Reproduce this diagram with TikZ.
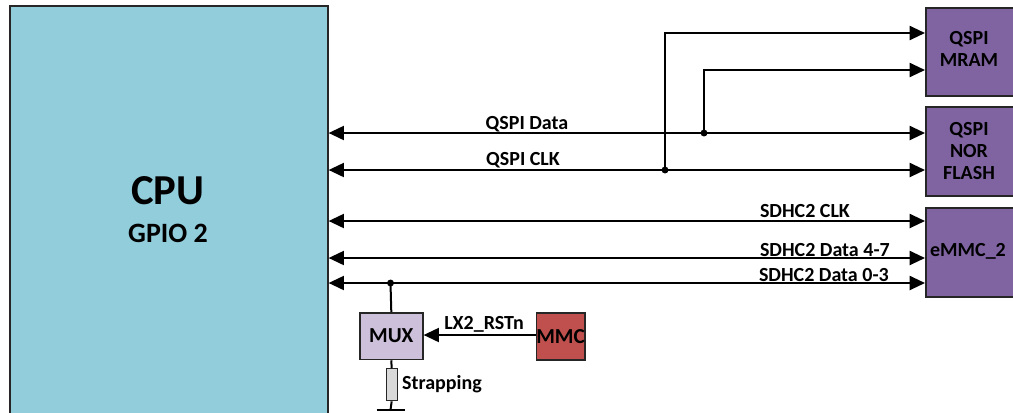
\documentclass[tikz,border=0pt]{standalone}
\usepackage{fontspec}
\setmainfont{Carlito}
\usetikzlibrary{arrows.meta}
\definecolor{cpublue}{HTML}{92CDDC}
\definecolor{devpurple}{HTML}{8064A2}
\definecolor{muxlav}{HTML}{CCC0DA}
\definecolor{mmcred}{HTML}{C0504D}
\definecolor{resgray}{HTML}{D9D9D9}
\definecolor{edge}{HTML}{262626}
\begin{document}
\begin{tikzpicture}[x=0.75pt,y=-0.75pt,
  line width=1.5pt,
  font=\bfseries\fontsize{15}{17.5}\selectfont,
  box/.style={draw=edge, line width=1.2pt, inner sep=0pt, anchor=north west, align=center},
  tip/.style={-{Triangle[length=11.5pt,width=10.5pt]}},
  bitip/.style={{Triangle[length=11.5pt,width=10.5pt]}-{Triangle[length=11.5pt,width=10.5pt]}},
  lbl/.style={inner sep=0pt, align=center},
  dot/.style={circle, fill=black, inner sep=0pt, minimum size=5pt}]
\clip (0,0) rectangle (1013,412);
\fill[white] (0,0) rectangle (1013,412);

% boxes
\node[box, fill=cpublue, minimum width=238.5pt, minimum height=330pt] (cpu) at (9,5) {};
\node[lbl, font=\bfseries\fontsize{32}{36}\selectfont] (cputxt) at (168,191) {CPU};
\node[lbl, font=\bfseries\fontsize{21}{24}\selectfont] (gpiotxt) at (168,233) {GPIO 2};

\node[box, fill=devpurple, minimum width=71.25pt, minimum height=66pt] (mram) at (925,7) {};
\node[lbl, font=\bfseries\fontsize{15}{16.5}\selectfont] at (969,49) {QSPI\\MRAM};
\node[box, fill=devpurple, minimum width=71.25pt, minimum height=66.75pt] (nor) at (925,106) {};
\node[lbl, font=\bfseries\fontsize{15}{16.5}\selectfont] at (969,151) {QSPI\\NOR\\FLASH};
\node[box, fill=devpurple, minimum width=71.25pt, minimum height=66.75pt] (emmc) at (925,207) {};
\node[lbl] at (968,251) {eMMC\_2};

\node[box, fill=muxlav, minimum width=47.25pt, minimum height=35pt, font=\bfseries\fontsize{16}{18}\selectfont] (mux) at (359,312) {MUX};
\node[box, fill=mmcred, minimum width=35.25pt, minimum height=35.25pt, font=\bfseries\fontsize{16}{18}\selectfont] (mmc) at (535.5,312) {MMC};
\node[box, fill=resgray, line width=1pt, minimum width=8.25pt, minimum height=24pt] (res) at (385.5,368) {};

% junctions
\coordinate (j1) at (665,170);
\coordinate (j2) at (704,133);
\coordinate (j3) at (390.5,283);
\coordinate (gnd) at (390.5,410);

% QSPI
\draw[bitip] (cpu.east |- j2) -- (nor.west |- j2);
\draw[bitip] (cpu.east |- j1) -- (nor.west |- j1);
\draw[tip] (j1) |- (mram.west |- 0,33);
\draw[tip] (j2) |- (mram.west |- 0,70);
\fill (j1) circle (2.6pt);
\fill (j2) circle (2.6pt);
\node[lbl] at (527,124) {QSPI Data};
\node[lbl] at (523,160) {QSPI CLK};

% SDHC2
\draw[bitip] (cpu.east |- 0,221) -- (emmc.west |- 0,221);
\draw[bitip] (cpu.east |- 0,258) -- (emmc.west |- 0,258);
\draw[bitip] (cpu.east |- j3) -- (emmc.west |- j3);
\node[lbl, anchor=west] at (759,211) {SDHC2 CLK};
\node[lbl, anchor=west] at (759,250) {SDHC2 Data 4-7};
\node[lbl, anchor=west] at (758,275) {SDHC2 Data 0-3};

% MUX
\fill (j3) circle (2.6pt);
\draw (j3) -- (mux.north);
\draw[tip] (mmc.west |- 0,335) -- (mux.east |- 0,335);
\node[lbl] at (484,324) {LX2\_RSTn};
\draw (mux.south) -- (res.north);
\draw (res.south) -- (gnd);
\draw (gnd) ++(-14,0) -- ++(28,0);
\node[lbl] at (442,384) {Strapping};
\end{tikzpicture}
\end{document}
